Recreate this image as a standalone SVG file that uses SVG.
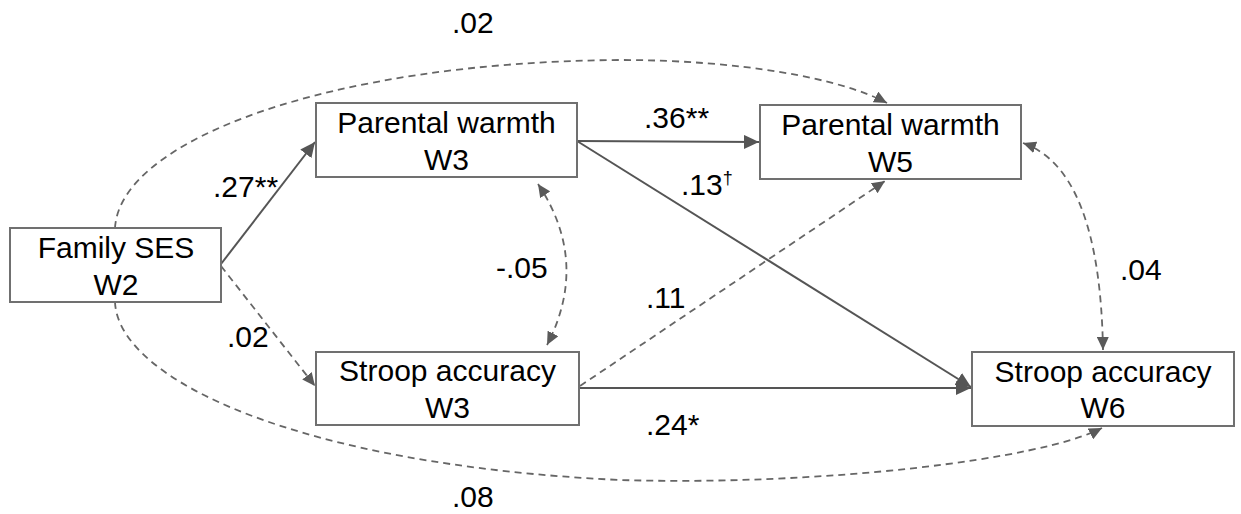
<svg xmlns="http://www.w3.org/2000/svg" width="1241" height="514" viewBox="0 0 1241 514">
  <style>
    .box { fill: #ffffff; stroke: #707070; stroke-width: 2; }
    .label { font-family: "Liberation Sans", Arial, sans-serif; font-size: 30px; fill: #000000; text-anchor: middle; }
    .coef { font-family: "Liberation Sans", Arial, sans-serif; font-size: 30px; fill: #000000; }
    .sup { font-size: 18px; }
    .solid { fill: none; stroke: #555555; stroke-width: 2; marker-end: url(#head); }
    .dash { fill: none; stroke: #666666; stroke-width: 1.8; stroke-dasharray: 7 5; marker-end: url(#headLight); }
    .both { marker-start: url(#headLight); }
  </style>
  <defs>
    <marker id="head" markerUnits="userSpaceOnUse" markerWidth="16" markerHeight="14" refX="15" refY="7" orient="auto-start-reverse">
      <path d="M0,0 L15,7 L0,14 z" fill="#555555"/>
    </marker>
    <marker id="headLight" markerUnits="userSpaceOnUse" markerWidth="14" markerHeight="12" refX="13" refY="6" orient="auto-start-reverse">
      <path d="M0,0 L13,6 L0,12 z" fill="#5a5a5a"/>
    </marker>
  </defs>

  <!-- paths and covariances -->
  <g id="connectors">
    <path class="dash" d="M115,228 C120,140 330,62 620,60 C740,60 840,78 887,103"/>
    <path class="dash" d="M115,302 C118,380 300,465 620,480 C820,486 1040,460 1102,428"/>
    <line class="solid" x1="221" y1="264" x2="315" y2="142"/>
    <line class="dash" x1="221" y1="266" x2="315" y2="386"/>
    <line class="solid" x1="577" y1="141" x2="759" y2="142"/>
    <line class="solid" x1="577" y1="141" x2="971" y2="387"/>
    <line class="solid" x1="580" y1="388" x2="971" y2="388"/>
    <line class="dash" x1="580" y1="386" x2="885" y2="181"/>
    <path class="dash both" d="M538,184 Q590,262 547,345"/>
    <path class="dash both" d="M1023,143 Q1100,170 1103,350"/>
  </g>

  <g id="family-ses-w2">
    <rect class="box" x="10" y="228" width="211" height="74"/>
    <text class="label" x="116" y="258">Family SES</text>
    <text class="label" x="116" y="295">W2</text>
  </g>
  <g id="parental-warmth-w3">
    <rect class="box" x="316" y="103" width="261" height="74"/>
    <text class="label" x="446.5" y="133">Parental warmth</text>
    <text class="label" x="446.5" y="170">W3</text>
  </g>
  <g id="stroop-accuracy-w3">
    <rect class="box" x="316" y="352" width="263" height="73"/>
    <text class="label" x="447.5" y="381">Stroop accuracy</text>
    <text class="label" x="447.5" y="418">W3</text>
  </g>
  <g id="parental-warmth-w5">
    <rect class="box" x="760" y="105" width="261" height="74"/>
    <text class="label" x="890.5" y="135">Parental warmth</text>
    <text class="label" x="890.5" y="172">W5</text>
  </g>
  <g id="stroop-accuracy-w6">
    <rect class="box" x="972" y="352" width="262" height="74"/>
    <text class="label" x="1103" y="382">Stroop accuracy</text>
    <text class="label" x="1103" y="418">W6</text>
  </g>

  <!-- coefficients -->
  <g id="coefficients">
    <text class="coef" x="452" y="33">.02</text>
    <text class="coef" x="213" y="197">.27**</text>
    <text class="coef" x="644" y="128">.36**</text>
    <text class="coef" x="681" y="195">.13<tspan class="sup" dy="-11">†</tspan></text>
    <text class="coef" x="496" y="278">-.05</text>
    <text class="coef" x="227" y="347">.02</text>
    <text class="coef" x="646" y="308">.11</text>
    <text class="coef" x="1120" y="280">.04</text>
    <text class="coef" x="646" y="435">.24*</text>
    <text class="coef" x="452" y="507">.08</text>
  </g>
</svg>
